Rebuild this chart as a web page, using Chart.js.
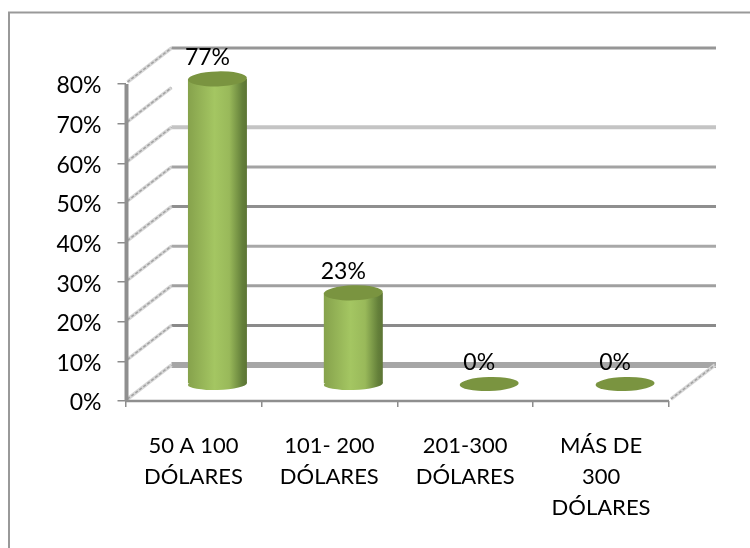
<!DOCTYPE html>
<html><head><meta charset="utf-8">
<script src="https://cdn.jsdelivr.net/npm/chart.js@4/dist/chart.umd.min.js"></script>
<style>html,body{margin:0;padding:0;background:#fff}#w{width:750px;height:548px}</style>
</head><body><div id="w"><canvas id="c" width="750" height="548"></canvas></div>
<script>
const categories = [["50 A 100","DÓLARES"],["101- 200","DÓLARES"],["201-300","DÓLARES"],["MÁS DE","300","DÓLARES"]];
const seriesName = ["Porcentaje"];
const values = [77,23,0,0];
const valueLabels = ["77%","23%","0%","0%"];
const yTicks = [0,10,20,30,40,50,60,70,80];
const wallStyles = {0:[6,"#a6a6a6"],10:[3,"#8a8a8a"],20:[3,"#a0a0a0"],30:[3,"#a8a8a8"],40:[3,"#8f8f8f"],50:[3,"#a3a3a3"],60:[4,"#c4c4c4"],80:[3,"#969696"]};

const DX=46, DY=-36, MX=24, MY=-17, RX=29.5;
const FONT='Lato, Carlito, sans-serif';

const threeD={id:'threeD',
 beforeDatasetsDraw(chart){
  const {ctx,scales:{x,y}}=chart;
  const L=x.left,R=x.right;
  ctx.save();
  yTicks.forEach(t=>{
    const s=wallStyles[t]; if(!s) return;
    const yy=y.getPixelForValue(t)+DY;
    ctx.strokeStyle=s[1];ctx.lineWidth=s[0];
    ctx.beginPath();ctx.moveTo(L+DX,yy);ctx.lineTo(R+DX+1,yy);ctx.stroke();
  });
  const diag=(x0,y0)=>{
    ctx.strokeStyle='#d6d6d6';ctx.lineWidth=3.5;ctx.setLineDash([]);
    ctx.beginPath();ctx.moveTo(x0+2,y0-2);ctx.lineTo(x0+DX,y0+DY);ctx.stroke();
    ctx.strokeStyle='#a2a2a2';ctx.lineWidth=1.5;ctx.setLineDash([3,2]);
    ctx.beginPath();ctx.moveTo(x0+2,y0-2);ctx.lineTo(x0+DX,y0+DY);ctx.stroke();
    ctx.setLineDash([]);
  };
  yTicks.forEach(t=>diag(L,y.getPixelForValue(t)));
  diag(R,y.getPixelForValue(0));
  ctx.restore();
 },
 beforeDatasetDraw(chart,args){
  const {ctx,scales:{y}}=chart;
  const meta=chart.getDatasetMeta(args.index);
  ctx.save();
  meta.data.forEach((b,i)=>{
    if(values[i]<=0) return;
    ctx.fillStyle=sideGradient(ctx,b.x+MX);
    ctx.beginPath();ctx.ellipse(b.x+MX,y.getPixelForValue(0)+MY,RX,6,-0.03,0,Math.PI*2);ctx.fill();
  });
  ctx.restore();
  ctx.save();
  ctx.translate(MX,MY);
 },
 afterDatasetDraw(chart,args){
  const {ctx,scales:{y}}=chart;
  ctx.restore();
  const meta=chart.getDatasetMeta(args.index);
  ctx.save();
  meta.data.forEach((b,i)=>{
    const top=y.getPixelForValue(values[i])+MY, cx=b.x+MX, zero=values[i]===0;
    ctx.fillStyle='#7a9440';
    ctx.beginPath();ctx.ellipse(cx,top,RX,zero?7:7.5,-0.03,0,Math.PI*2);ctx.fill();
    ctx.fillStyle='#000';ctx.font='23px '+FONT;ctx.textAlign='center';ctx.textBaseline='middle';
    ctx.fillText(valueLabels[i],cx-10,top-21);
  });
  ctx.restore();
 },
 afterDraw(chart){
  const {ctx,scales:{x,y}}=chart;
  ctx.save();ctx.strokeStyle='#8f8f8f';ctx.lineWidth=4;
  ctx.beginPath();ctx.moveTo(x.left+1,y.top);ctx.lineTo(x.left+1,y.bottom);ctx.stroke();
  ctx.lineWidth=2.5;ctx.beginPath();ctx.moveTo(x.left,y.bottom);ctx.lineTo(x.right,y.bottom);ctx.stroke();
  ctx.restore();
 }
};
const bg={id:'bg',beforeDraw(chart){
  const ctx=chart.ctx;ctx.save();ctx.fillStyle='#fff';ctx.fillRect(0,0,750,548);
  ctx.strokeStyle='#999999';ctx.lineWidth=2;
  ctx.beginPath();ctx.moveTo(9,548);ctx.lineTo(9,12.5);ctx.lineTo(750,12.5);ctx.stroke();ctx.restore();
}};
function sideGradient(ctx,cx){
  const g=ctx.createLinearGradient(cx-RX,0,cx+RX,0);
  g.addColorStop(0,'#86a24c');g.addColorStop(0.45,'#a4c662');g.addColorStop(0.7,'#99b95a');g.addColorStop(0.92,'#64803a');g.addColorStop(1,'#5c7434');
  return g;
}
new Chart(document.getElementById('c'),{
 type:'bar',
 plugins:[bg,threeD],
 data:{labels:categories,datasets:[{label:seriesName[0],data:values,
   backgroundColor(c){
     const a=c.chart.chartArea; if(!a) return '#a4c662';
     const sx=c.chart.scales.x;
     return sideGradient(c.chart.ctx,sx.getPixelForValue(c.dataIndex));
   },
   borderWidth:0,categoryPercentage:1,barPercentage:0.434}]},
 options:{responsive:false,animation:false,
  layout:{padding:{top:84,right:81,left:0,bottom:0}},
  plugins:{legend:{display:false},tooltip:{enabled:false},title:{display:false}},
  scales:{
   x:{offset:true,afterFit(s){s.height=147},
      grid:{offset:true,drawOnChartArea:false,drawTicks:true,tickLength:6,color:'#8c8c8c',lineWidth:1.5},
      border:{display:false},
      ticks:{color:'#000',font:{family:FONT,size:22,lineHeight:1.42},padding:23,maxRotation:0,autoSkip:false}},
   y:{min:0,max:80,afterFit(s){s.width=125.5},
      grid:{drawOnChartArea:false,drawTicks:true,tickLength:8,color:'#8c8c8c',lineWidth:1.5},
      border:{display:false},
      afterBuildTicks(s){s.ticks=yTicks.map(v=>({value:v}))},
      ticks:{color:'#000',font:{family:FONT,size:23},padding:16,labelOffset:2,callback:v=>v+'%'}}
  }
 }
});
</script></body></html>
